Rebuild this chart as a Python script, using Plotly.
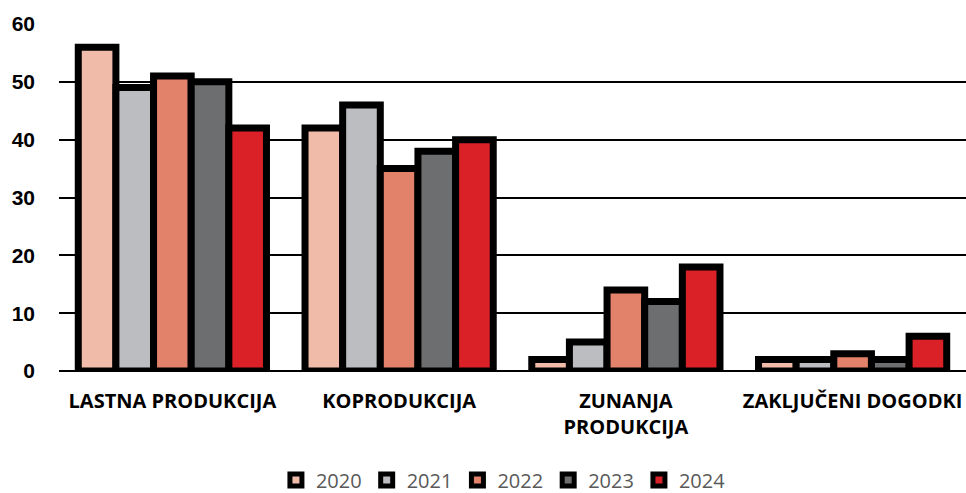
import plotly.graph_objects as go

categories = ["LASTNA PRODUKCIJA", "KOPRODUKCIJA", "ZUNANJA<br>PRODUKCIJA", "ZAKLJUČENI DOGODKI"]
years = ["2020", "2021", "2022", "2023", "2024"]
v2020 = [56, 42, 2, 2]
v2021 = [49, 46, 5, 2]
v2022 = [51, 35, 14, 3]
v2023 = [50, 38, 12, 2]
v2024 = [42, 40, 18, 6]
series = [v2020, v2021, v2022, v2023, v2024]
colors = ["#F0BBA8", "#BCBDC1", "#E3826A", "#6D6E70", "#DA2128"]

fig = go.Figure()
for name, vals, col in zip(years, series, colors):
    fig.add_trace(go.Bar(
        x=categories, y=vals, name=name,
        marker=dict(color=col, line=dict(color="black", width=7)),
    ))

fig.update_layout(
    width=966, height=493,
    margin=dict(l=59, r=0, t=24, b=122, autoexpand=False),
    paper_bgcolor="white", plot_bgcolor="white",
    barmode="group", bargap=0.17, bargroupgap=0,
    font=dict(family="Liberation Sans, Arial, sans-serif", color="black"),
    showlegend=True,
    legend=dict(orientation="h", x=0.49, xanchor="center", y=-0.37, yanchor="bottom",
                font=dict(size=20, color="#595959", family="Open Sans, sans-serif"),
                itemwidth=30, tracegroupgap=0),
    xaxis=dict(showgrid=False, showline=False, zeroline=False, automargin=False,
               tickfont=dict(size=20, color="black", family="Open Sans, sans-serif", weight="bold"),
               ticklabelstandoff=16),
    yaxis=dict(range=[0, 60], dtick=10, showgrid=True, gridcolor="black", gridwidth=2,
               zeroline=True, zerolinecolor="black", zerolinewidth=2, showline=False,
               automargin=False,
               tickfont=dict(size=21, color="black", weight="bold"), ticklabelstandoff=23),
)

fig.write_html("out.html", config={"displayModeBar": False},
               post_script="document.body.style.margin='0';document.body.style.overflow='hidden';")
